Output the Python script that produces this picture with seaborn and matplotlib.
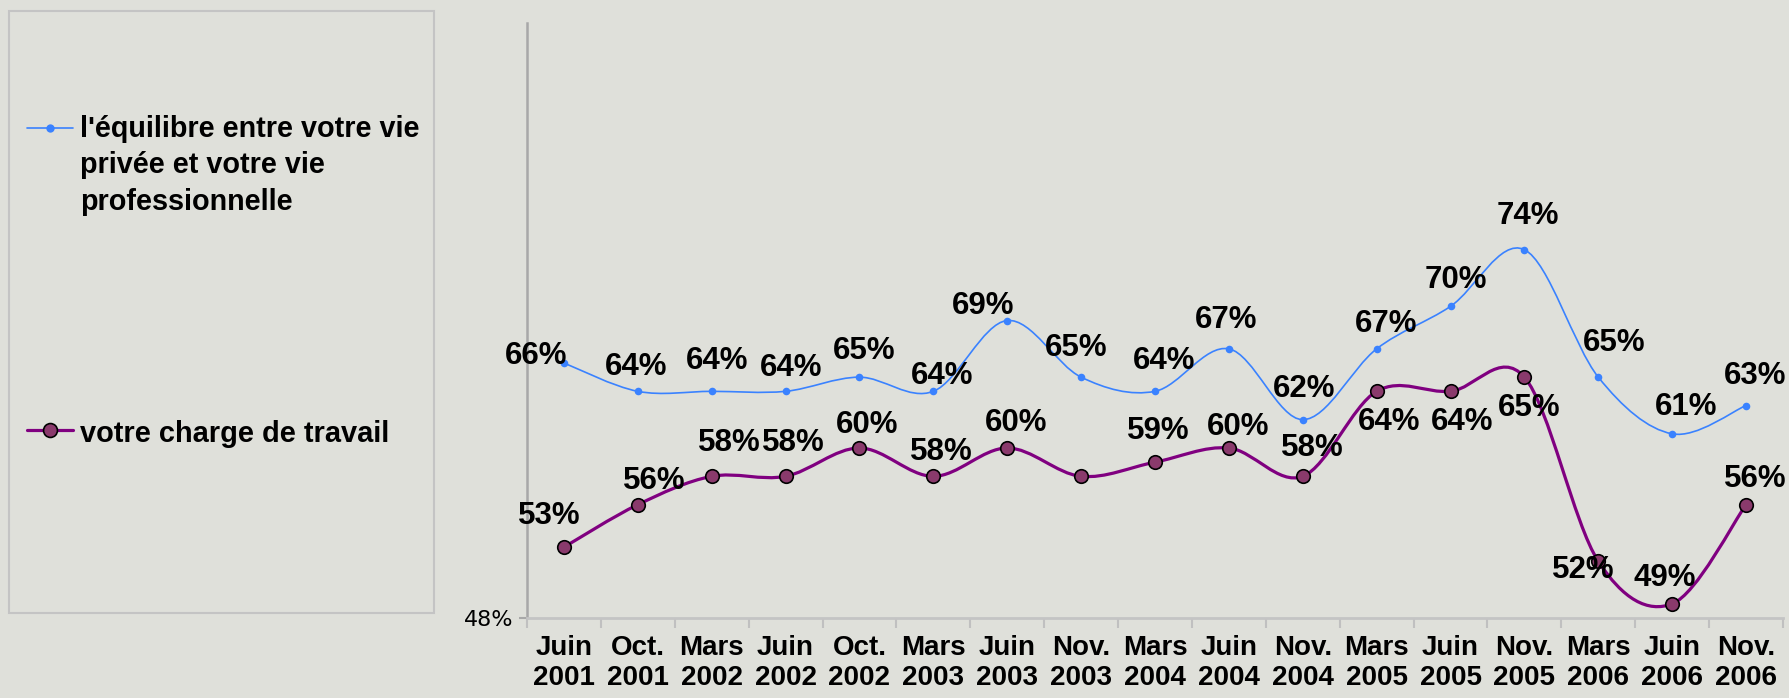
import numpy as np
import pandas as pd
import matplotlib
matplotlib.use('Agg')
import matplotlib.pyplot as plt
import seaborn as sns
from matplotlib.path import Path
from matplotlib.patches import PathPatch, Rectangle
from matplotlib.lines import Line2D

# Data
periods = ['Juin\n2001', 'Oct.\n2001', 'Mars\n2002', 'Juin\n2002', 'Oct.\n2002', 'Mars\n2003',
           'Juin\n2003', 'Nov.\n2003', 'Mars\n2004', 'Juin\n2004', 'Nov.\n2004', 'Mars\n2005',
           'Juin\n2005', 'Nov.\n2005', 'Mars\n2006', 'Juin\n2006', 'Nov.\n2006']
equilibre = [66, 64, 64, 64, 65, 64, 69, 65, 64, 67, 62, 67, 70, 74, 65, 61, 63]
charge = [53, 56, 58, 58, 60, 58, 60, 58, 59, 60, 58, 64, 64, 65, 52, 49, 56]
charge_shown = [True] * 7 + [False] + [True] * 9

label_eq = "l'équilibre entre votre vie\nprivée et votre vie\nprofessionnelle"
label_ch = "votre charge de travail"

# label offsets (pixels)
off_eq = [(-28, 7), (-2, 24), (5, 30), (6, 23), (5, 26), (9, 15), (-24, 14), (-5, 29), (9, 30),
          (-3, 29), (1, 31), (9, 25), (5, 26), (3, 34), (16, 34), (14, 27), (9, 30)]
off_ch = [(-15, 31), (16, 24), (18, 33), (8, 33), (8, 23), (8, 24), (9, 25), (0, 0), (3, 31),
          (9, 21), (10, 28), (12, -31), (12, -31), (5, -31), (-15, -9), (-7, 26), (9, 26)]

df = pd.DataFrame({'pos': np.arange(len(periods)), 'equilibre': equilibre, 'charge': charge})

BG = '#dfe0da'
BLUE = '#3a82ff'
PURPLE = '#800080'
MFACE = '#8a3a6c'

sns.set_theme(style='white')
plt.rcParams['font.family'] = ['Liberation Sans', 'DejaVu Sans']
plt.rcParams['text.color'] = 'black'
plt.rcParams['xtick.labelcolor'] = 'black'
plt.rcParams['ytick.labelcolor'] = 'black'

fig = plt.figure(figsize=(17.89, 6.98), dpi=100, facecolor=BG)
ax = fig.add_axes([527 / 1789, 1 - 618 / 698, (1783 - 527) / 1789, (618 - 23) / 698])
ax.set_facecolor(BG)


def smooth_path(xs, ys):
    # Excel-like smoothed line: cubic Bezier through the points
    pts = np.column_stack([xs, ys]).astype(float)
    n = len(pts)
    verts = [pts[0]]
    codes = [Path.MOVETO]
    for i in range(n - 1):
        p0 = pts[i - 1] if i > 0 else pts[i]
        p1 = pts[i]
        p2 = pts[i + 1]
        p3 = pts[i + 2] if i + 2 < n else pts[i + 1]
        c1 = p1 + (p2 - p0) / 6
        c2 = p2 - (p3 - p1) / 6
        verts += [c1, c2, p2]
        codes += [Path.CURVE4] * 3
    return Path(verts, codes)


ax.add_patch(PathPatch(smooth_path(df['pos'], df['equilibre']), fill=False,
                       edgecolor=BLUE, lw=1.2, zorder=2))
ax.add_patch(PathPatch(smooth_path(df['pos'], df['charge']), fill=False,
                       edgecolor=PURPLE, lw=2.3, zorder=2))

sns.scatterplot(data=df, x='pos', y='equilibre', ax=ax, color=BLUE, s=30,
                edgecolor=BLUE, linewidth=0, zorder=3, legend=False)
sns.scatterplot(data=df, x='pos', y='charge', ax=ax, color=MFACE, s=95,
                edgecolor='black', linewidth=1.2, zorder=3, legend=False)

for i, v in enumerate(equilibre):
    ax.annotate(f'{v}%', (i, v), xytext=off_eq[i], textcoords='offset pixels',
                ha='center', va='center', fontsize=22.5, fontweight='bold', color='black', zorder=4)
for i, v in enumerate(charge):
    if charge_shown[i]:
        ax.annotate(f'{v}%', (i, v), xytext=off_ch[i], textcoords='offset pixels',
                    ha='center', va='center', fontsize=22.5, fontweight='bold', color='black', zorder=4)

ax.set_xlim(-0.5, len(periods) - 0.5)
ax.set_ylim(48, 90)
ax.set_xlabel('')
ax.set_ylabel('')

ax.set_xticks(df['pos'])
ax.set_xticklabels(periods, fontsize=20, fontweight='bold', linespacing=1.2)
ax.set_xticks(np.arange(len(periods) + 1) - 0.5, minor=True)
ax.tick_params(axis='x', which='major', length=0, pad=12)
ax.tick_params(axis='x', which='minor', length=7, width=1.5, color='#c0c0c0', bottom=True)
ax.set_yticks([48])
ax.set_yticklabels(['48%'], fontsize=16, family=['DejaVu Sans'])
ax.tick_params(axis='y', length=6, width=1.5, color='#a8a8a8', left=True, pad=4)

for s in ['top', 'right']:
    ax.spines[s].set_visible(False)
ax.spines['left'].set_color('#a8a8a8')
ax.spines['left'].set_linewidth(1.8)
ax.spines['bottom'].set_color('#c4c4c4')
ax.spines['bottom'].set_linewidth(2)

# legend box
W, H = 1789, 698
fig.add_artist(Rectangle((9 / W, 1 - 613 / H), 425 / W, 602 / H, transform=fig.transFigure,
                         facecolor='none', edgecolor='#c4c4c4', lw=1.5))
fig.add_artist(Line2D([27 / W, 73 / W], [1 - 128 / H] * 2, transform=fig.transFigure,
                      color=BLUE, lw=1.2))
fig.add_artist(Line2D([50 / W], [1 - 128 / H], transform=fig.transFigure,
                      color=BLUE, marker='o', markersize=6, markeredgewidth=0, linestyle='none'))
fig.add_artist(Line2D([27 / W, 73 / W], [1 - 430 / H] * 2, transform=fig.transFigure,
                      color=PURPLE, lw=2.3))
fig.add_artist(Line2D([50 / W], [1 - 430 / H], transform=fig.transFigure, color=MFACE,
                      marker='o', markersize=10, markeredgecolor='black', markeredgewidth=1.2,
                      linestyle='none'))
fig.text(80 / W, 1 - 115 / H, label_eq, fontsize=20.7, fontweight='bold', va='top',
         linespacing=1.38, color='black')
fig.text(80 / W, 1 - 431 / H, label_ch, fontsize=20.9, fontweight='bold',
         va='center_baseline', color='black')

fig.savefig('out.png', dpi=100, facecolor=BG)
